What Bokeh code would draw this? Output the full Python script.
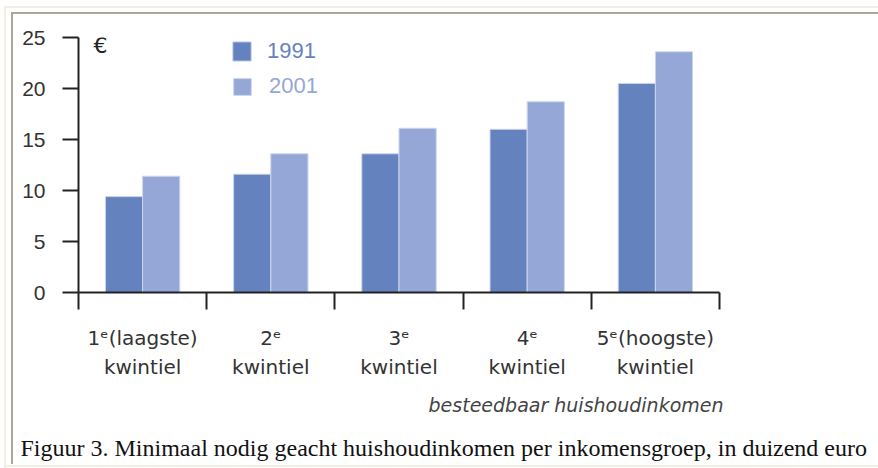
from bokeh.plotting import figure
from bokeh.models import Range1d, FixedTicker, Label, Legend, LegendItem, ColumnDataSource, Title
from bokeh.transform import dodge
from bokeh.embed import file_html
from bokeh.resources import INLINE

# ---- data ----
quintile_line1 = ["1\u1d49(laagste)", "2\u1d49", "3\u1d49", "4\u1d49", "5\u1d49(hoogste)"]
quintile_line2 = "kwintiel"
years = ["1991", "2001"]
v1991 = [9.4, 11.6, 13.6, 16.0, 20.5]
v2001 = [11.4, 13.6, 16.1, 18.7, 23.6]
y_ticks = [0, 5, 10, 15, 20, 25]
x_bounds = [0, 1, 2, 3, 4, 5]
unit_text = "€"
x_title = "besteedbaar huishoudinkomen"
caption = "Figuur 3. Minimaal nodig geacht huishoudinkomen per inkomensgroep, in duizend euro"

C_DARK = "#6482BE"
C_LIGHT = "#94A7D6"
EDGE = "#cdd5ee"
AX = "#222222"
TXT = "#333333"
XP_DARK = "#ACA899"
XP_LIGHT = "#F1EFE2"

centers = [i + 0.5 for i in range(len(quintile_line1))]
src = ColumnDataSource(dict(xc=centers, v1991=v1991, v2001=v2001))

p = figure(width=878, height=468, output_backend="svg", toolbar_location=None,
           x_range=Range1d(0, 5), y_range=Range1d(0, 25),
           min_border_left=78, min_border_right=159, min_border_top=37, min_border_bottom=175)
p.outline_line_color = None
p.grid.visible = False
p.background_fill_color = "white"
p.border_fill_color = None
p.styles = {
    "background": (
        f"linear-gradient({XP_DARK},{XP_DARK}) 11px 12px / 2px 452px no-repeat, "
        f"linear-gradient({XP_DARK},{XP_DARK}) 11px 12px / 867px 2px no-repeat, "
        f"linear-gradient({XP_LIGHT},{XP_LIGHT}) 4px 6px / 2px 462px no-repeat, "
        f"linear-gradient({XP_LIGHT},{XP_LIGHT}) 4px 6px / 874px 2px no-repeat, "
        f"linear-gradient({XP_LIGHT},{XP_LIGHT}) 4px 465px / 874px 2px no-repeat, "
        "white"
    )
}

bw = 0.29
r1 = p.vbar(x=dodge("xc", -bw / 2, range=p.x_range), top="v1991", width=bw, source=src,
            fill_color=C_DARK, line_color=EDGE, line_width=1)
r2 = p.vbar(x=dodge("xc", bw / 2, range=p.x_range), top="v2001", width=bw, source=src,
            fill_color=C_LIGHT, line_color=EDGE, line_width=1)

# y axis
ya = p.yaxis[0]
ya.ticker = FixedTicker(ticks=y_ticks)
ya.minor_tick_line_color = None
ya.major_tick_in = 0
ya.major_tick_out = 16
ya.major_label_standoff = 17
ya.axis_line_color = AX
ya.axis_line_width = 2
ya.major_tick_line_color = AX
ya.major_tick_line_width = 2
ya.major_label_text_font = "Liberation Sans"
ya.major_label_text_font_size = "21px"
ya.major_label_text_color = TXT

# x axis: labels at the group centres, tick marks between groups
xa = p.xaxis[0]
xa.ticker = FixedTicker(ticks=centers, minor_ticks=x_bounds)
xa.major_tick_in = 0
xa.major_tick_out = 0
xa.major_tick_line_color = None
xa.minor_tick_in = 0
xa.minor_tick_out = 17
xa.minor_tick_line_color = AX
xa.minor_tick_line_width = 2
xa.axis_line_color = AX
xa.axis_line_width = 2
xa.major_label_overrides = {c: f"{a}\n{quintile_line2}" for c, a in zip(centers, quintile_line1)}
xa.major_label_text_font = "DejaVu Sans"
xa.major_label_text_font_size = "20px"
xa.major_label_text_color = TXT
xa.major_label_text_line_height = 1.22
xa.major_label_standoff = 16

# legends (one per year so each label can take its series colour)
for r, yr, col, loc, gw, gh, so in [(r1, years[0], C_DARK, (152, 228), 23, 24, 14),
                                    (r2, years[1], C_LIGHT, (153, 193), 22, 21, 16)]:
    lg = Legend(items=[LegendItem(label=yr, renderers=[r])], location=loc,
                padding=0, margin=0, spacing=0, glyph_width=gw, glyph_height=gh,
                label_standoff=so, label_text_font="Liberation Sans",
                label_text_font_size="22px", label_text_color=col,
                border_line_color=None, background_fill_alpha=0)
    p.add_layout(lg)

# unit label
p.add_layout(Label(x=0, y=25, x_offset=15, y_offset=-8, text=unit_text,
                   text_font="DejaVu Sans", text_font_size="22px", text_color=AX,
                   text_baseline="alphabetic"))

# axis title and caption below
p.add_layout(Title(text=x_title, align="right", offset=-4, standoff=20,
                   text_font="DejaVu Sans", text_font_style="italic", text_font_size="19px",
                   text_color="#444444"), "below")
p.add_layout(Title(text=caption, align="left", offset=-58, standoff=15,
                   text_font="Liberation Serif", text_font_style="normal", text_font_size="24px",
                   text_color="#111111"), "below")

open("out.html", "w").write(file_html(p, INLINE))
